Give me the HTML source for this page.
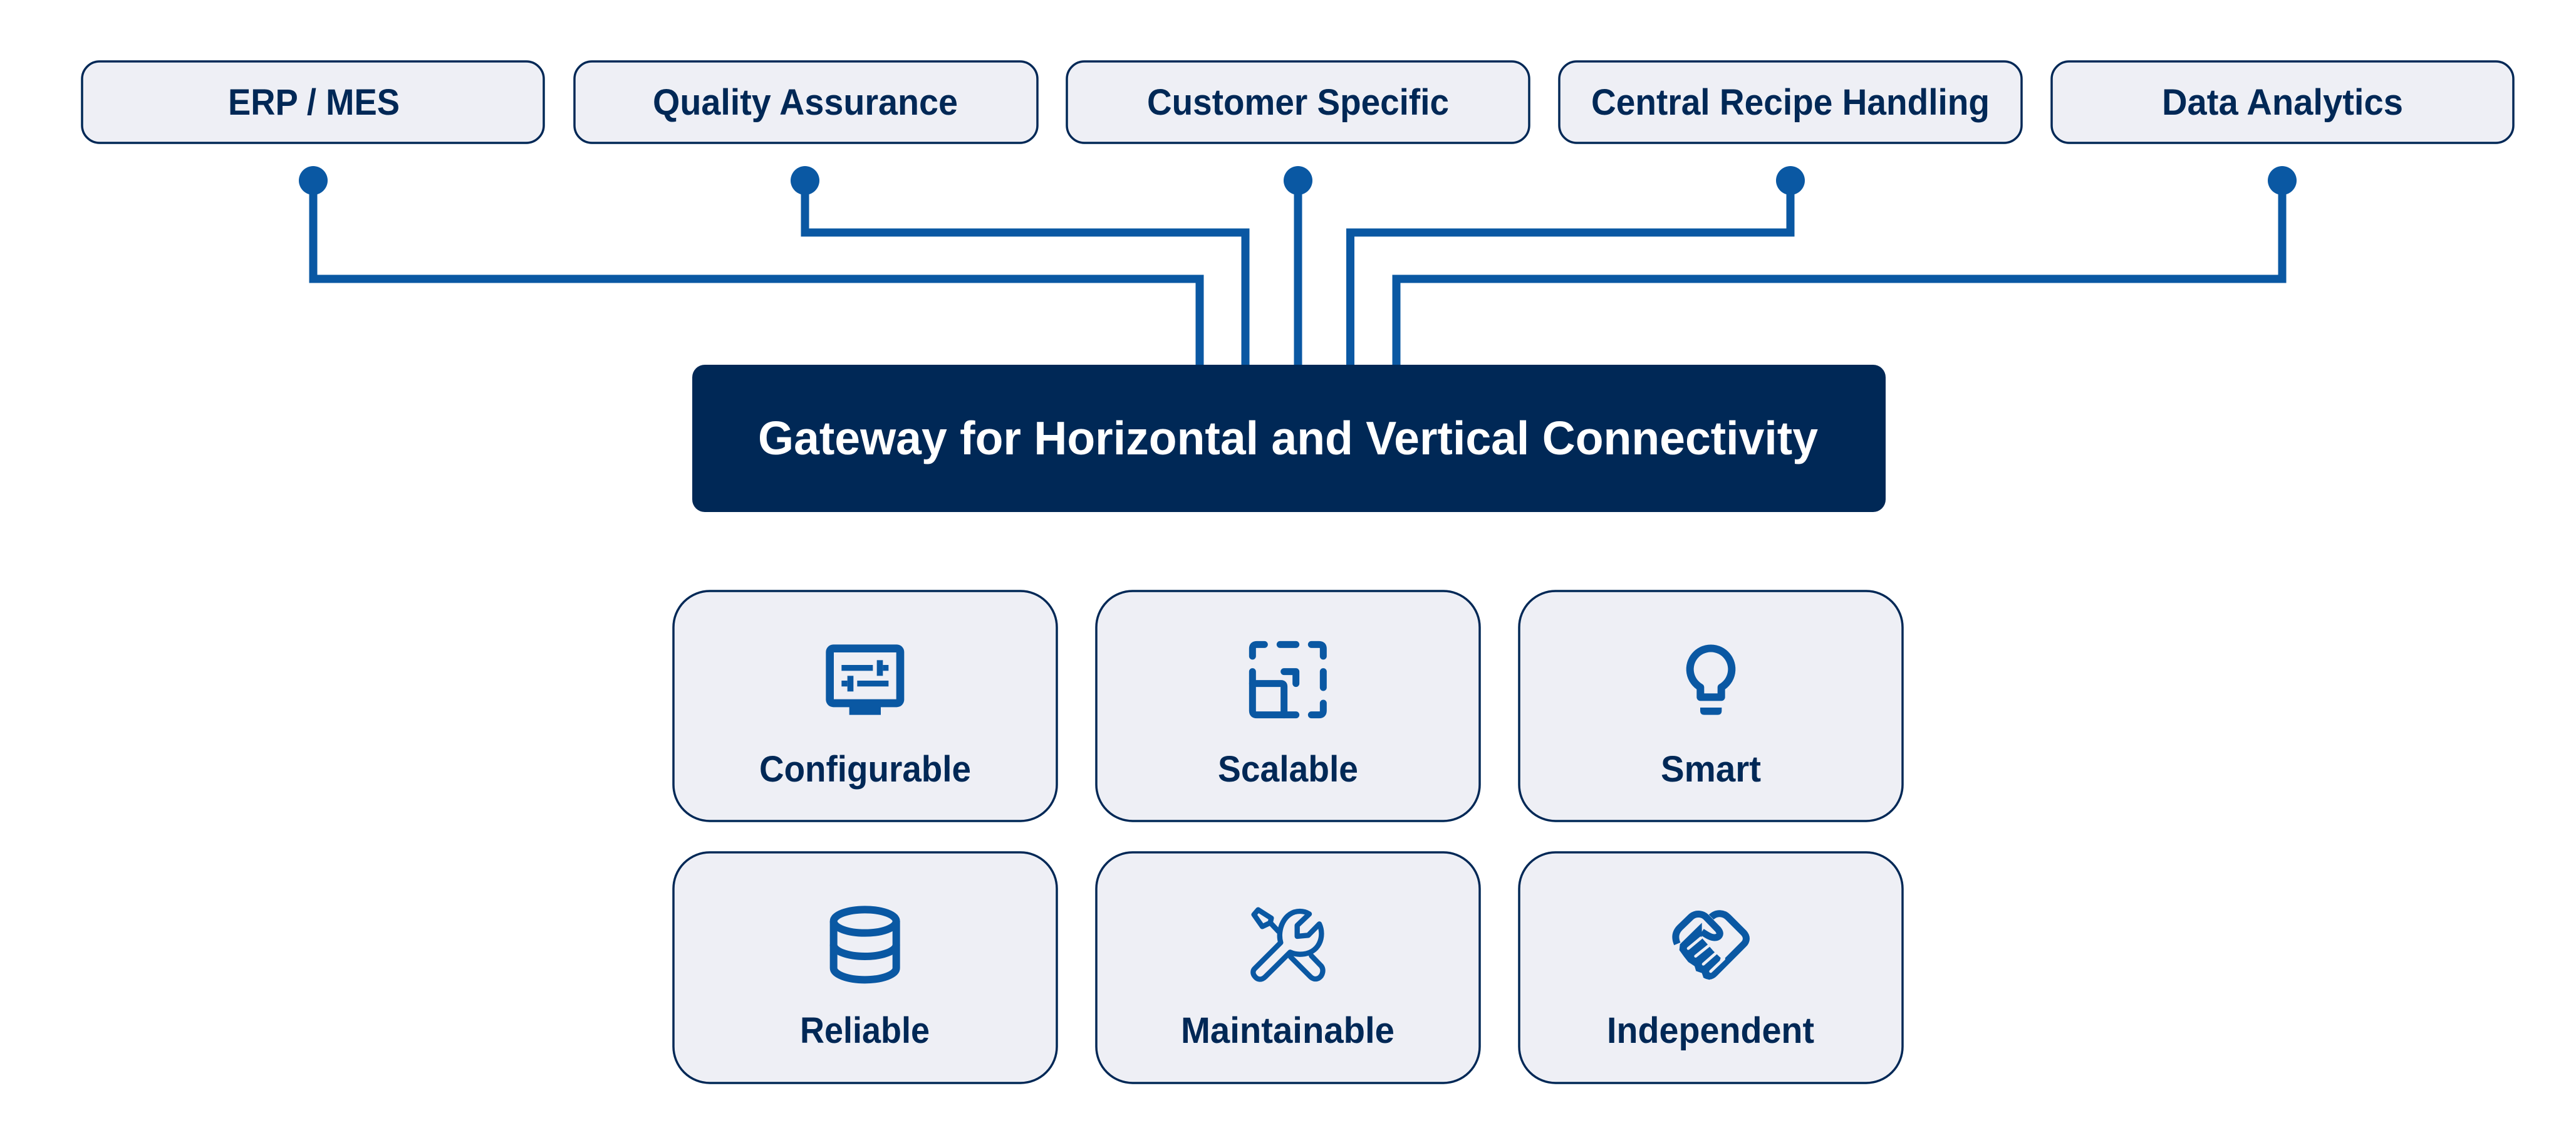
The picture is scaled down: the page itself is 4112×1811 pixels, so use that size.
<!DOCTYPE html>
<html><head><meta charset="utf-8"><style>
html,body{margin:0;padding:0;background:#fff}
svg{display:block}
text{font-family:"Liberation Sans",sans-serif;font-weight:700;fill:#002856}
</style></head><body>
<svg width="4112" height="1811" viewBox="0 0 4112 1811" xmlns="http://www.w3.org/2000/svg">
<rect width="4112" height="1811" fill="#fff"/>
<g fill="#eeeff5" stroke="#002856" stroke-width="3.5">
<rect x="131" y="98" width="737" height="130" rx="28"/>
<rect x="917" y="98" width="739" height="130" rx="28"/>
<rect x="1703" y="98" width="738" height="130" rx="28"/>
<rect x="2489" y="98" width="738" height="130" rx="28"/>
<rect x="3275" y="98" width="737" height="130" rx="28"/>
<rect x="1075" y="943" width="612" height="367" rx="58"/>
<rect x="1750" y="943" width="612" height="367" rx="58"/>
<rect x="2425" y="943" width="612" height="367" rx="58"/>
<rect x="1075" y="1360" width="612" height="368" rx="58"/>
<rect x="1750" y="1360" width="612" height="368" rx="58"/>
<rect x="2425" y="1360" width="612" height="368" rx="58"/>
</g>
<g fill="none" stroke="#0a58a3" stroke-width="13">
<path d="M500,288V445H1915V584"/>
<path d="M1285,288V371H1988V584"/>
<path d="M2072,288V584"/>
<path d="M2858,288V371H2155.5V584"/>
<path d="M3643,288V445H2229V584"/>
</g>
<g fill="#0a58a3">
<circle cx="500" cy="288" r="23"/><circle cx="1285" cy="288" r="23"/><circle cx="2072" cy="288" r="23"/><circle cx="2858" cy="288" r="23"/><circle cx="3643" cy="288" r="23"/>
</g>
<rect x="1105" y="582" width="1905" height="235" rx="20" fill="#002856"/>
<g font-size="58">
<text x="364" y="183" textLength="274" lengthAdjust="spacingAndGlyphs">ERP / MES</text>
<text x="1042" y="183" textLength="487" lengthAdjust="spacingAndGlyphs">Quality Assurance</text>
<text x="1831" y="183" textLength="482" lengthAdjust="spacingAndGlyphs">Customer Specific</text>
<text x="2540" y="183" textLength="636" lengthAdjust="spacingAndGlyphs">Central Recipe Handling</text>
<text x="3451" y="183" textLength="385" lengthAdjust="spacingAndGlyphs">Data Analytics</text>
<text x="1212" y="1247" textLength="338" lengthAdjust="spacingAndGlyphs">Configurable</text>
<text x="1944" y="1247" textLength="224" lengthAdjust="spacingAndGlyphs">Scalable</text>
<text x="2651" y="1247" textLength="160" lengthAdjust="spacingAndGlyphs">Smart</text>
<text x="1277" y="1664" textLength="207" lengthAdjust="spacingAndGlyphs">Reliable</text>
<text x="1885" y="1664" textLength="341" lengthAdjust="spacingAndGlyphs">Maintainable</text>
<text x="2565" y="1664" textLength="331" lengthAdjust="spacingAndGlyphs">Independent</text>
</g>
<text x="1210" y="725" font-size="75" textLength="1692" lengthAdjust="spacingAndGlyphs" style="fill:#fff">Gateway for Horizontal and Vertical Connectivity</text>

<!-- monitor -->
<g transform="translate(1250,1000) scale(.33333)" fill="#0a58a3">
<rect x="205" y="85" width="375" height="300" rx="36"/>
<rect x="243" y="123" width="299" height="224" fill="#eeeff5"/>
<rect x="317" y="380" width="151" height="42"/>
<rect x="280" y="183" width="150" height="28"/>
<rect x="449" y="160" width="29" height="75"/>
<rect x="478" y="183" width="27" height="28"/>
<rect x="355" y="258" width="150" height="28"/>
<rect x="308" y="235" width="29" height="75"/>
<rect x="280" y="258" width="28" height="28"/>
</g>
<!-- scale -->
<g transform="translate(1950,1000) scale(.33333)" fill="none" stroke="#0a58a3" stroke-width="33" stroke-linecap="round" stroke-linejoin="round">
<path d="M148,141V105Q148,85 168,85H205"/>
<path d="M280,85H356"/>
<path d="M430,85H467Q487,85 487,105V141"/>
<path d="M487,215V291"/>
<path d="M487,366V402Q487,422 467,422H430"/>
<path d="M356,422H168Q148,422 148,402V215"/>
<path d="M148,272H285Q299,272 299,286V422"/>
<path d="M299,215H356V272"/>
</g>
<!-- bulb -->
<g transform="translate(2620,1000) scale(.33333)" fill="#0a58a3">
<path d="M283,290V337H383V290A100,100 0 1 0 283,290Z" fill="none" stroke="#0a58a3" stroke-width="36" stroke-linejoin="round"/>
<path d="M282,387H385V402Q385,422 365,422H302Q282,422 282,402Z"/>
</g>
<!-- database -->
<g transform="translate(1270,1430) scale(.33333)" fill="none" stroke="#0a58a3" stroke-width="36">
<ellipse cx="332" cy="120" rx="150" ry="56"/>
<path d="M182,120V344A150,56 0 0 0 482,344V120"/>
<path d="M182,232A150,56 0 0 0 482,232"/>
</g>
<!-- tools -->
<g transform="translate(1950,1430) scale(.33333)" fill="none" stroke="#0a58a3" stroke-width="25" stroke-linejoin="round" stroke-linecap="round">
<path d="M175,65L238,105L233,127L195,145L155,88Z"/>
<path d="M238,132L272,168"/>
<path d="M283,222C265,160 300,72 375,72Q400,72 420,85L362,140V192L415,187L468,133C495,190 470,278 375,278Q350,278 328,268L210,385C190,405 170,398 160,385C148,372 148,355 160,345Z"/>
<path d="M430,285L478,335C490,352 485,380 465,392C450,400 435,395 425,385L330,290"/>
</g>
<!-- handshake -->
<g transform="translate(2620,1430) scale(.33333)">
<path d="M290,127L185,230L182,258L205,290L225,315L255,335L262,358L290,368L297,388L325,400L352,388L380,295L345,262L310,222L290,200Z" fill="#0a58a3"/>
<g fill="none" stroke="#0a58a3" stroke-width="33" stroke-linecap="butt" stroke-linejoin="round">
<path d="M172,228C158,195 165,170 185,150L240,97C265,78 295,85 310,100L368,160C385,182 372,198 350,198C335,198 320,190 290,170"/>
<path d="M335,100C360,75 395,80 415,100L490,175C508,195 505,215 490,230L350,370C335,385 320,385 305,375"/>
</g>
<g fill="none" stroke="#eeeff5" stroke-width="14" stroke-linecap="round">
<path d="M225,250L285,200"/>
<path d="M260,287L325,235"/>
<path d="M297,325L360,270"/>
<path d="M332,360L395,300"/>
</g>
</g>
</svg>
</body></html>
